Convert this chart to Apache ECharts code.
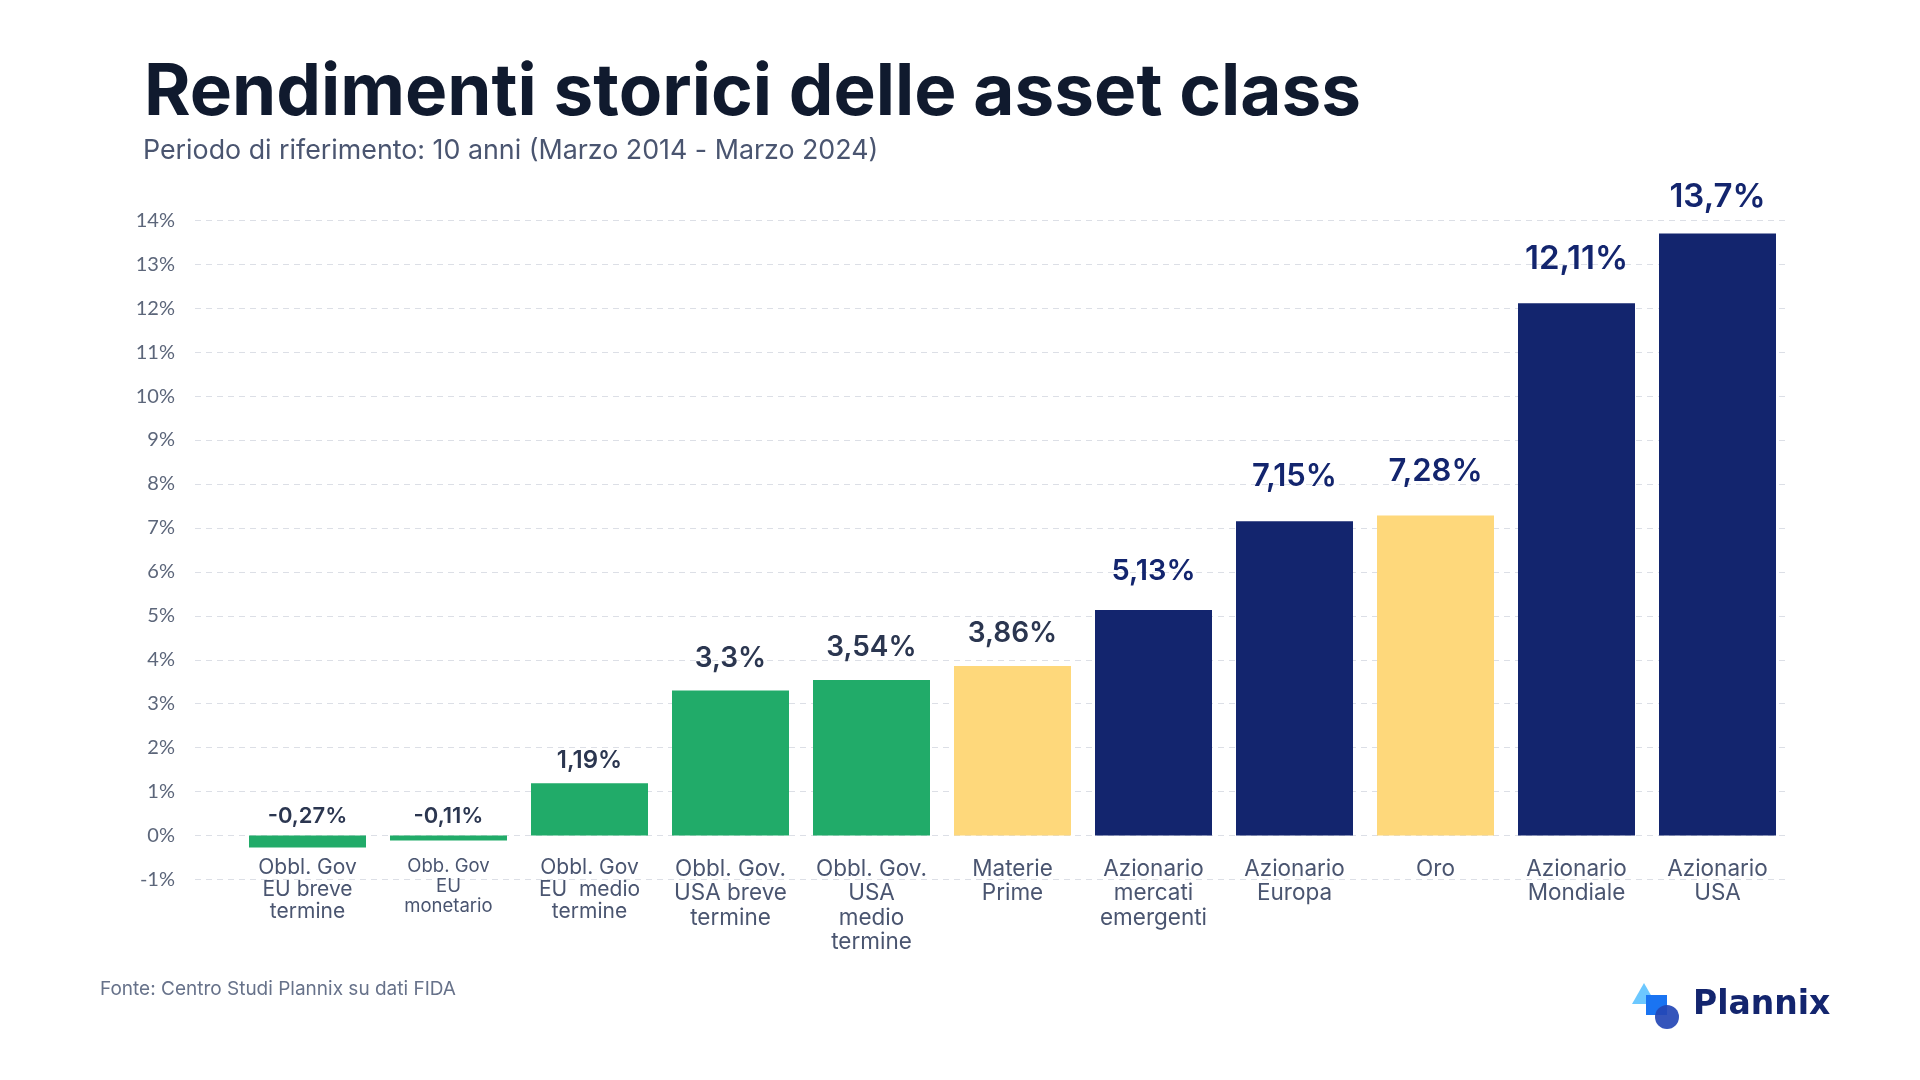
<!DOCTYPE html>
<html><head><meta charset="utf-8">
<script src="https://cdn.jsdelivr.net/npm/echarts@6/dist/echarts.min.js"></script>
<style>html,body{margin:0;padding:0;background:#fff}#c{width:1920px;height:1080px}</style>
</head><body><div id="c"></div>
<script>
// ---- data ----
const categories = [
  'Obbl. Gov\nEU breve\ntermine',
  'Obb. Gov\nEU\nmonetario',
  'Obbl. Gov\nEU  medio\ntermine',
  'Obbl. Gov.\nUSA breve\ntermine',
  'Obbl. Gov.\nUSA\nmedio\ntermine',
  'Materie\nPrime',
  'Azionario\nmercati\nemergenti',
  'Azionario\nEuropa',
  'Oro',
  'Azionario\nMondiale',
  'Azionario\nUSA'
];
const values = [-0.27, -0.11, 1.19, 3.3, 3.54, 3.86, 5.13, 7.15, 7.28, 12.11, 13.7];
const valueLabels = ['-0,27%', '-0,11%', '1,19%', '3,3%', '3,54%', '3,86%', '5,13%', '7,15%', '7,28%', '12,11%', '13,7%'];
const groups = ['bond', 'bond', 'bond', 'bond', 'bond', 'commodity', 'equity', 'equity', 'commodity', 'equity', 'equity'];
const yMin = -1, yMax = 14, yStep = 1;
const titleText = 'Rendimenti storici delle asset class';
const subtitleText = 'Periodo di riferimento: 10 anni (Marzo 2014 - Marzo 2024)';
const sourceText = 'Fonte: Centro Studi Plannix su dati FIDA';
const brandText = 'Plannix';

// ---- styles ----
const groupColors = { bond: '#21ab69', commodity: '#fed87b', equity: '#13256e' };
const labelColors = ['#2b3650', '#2b3650', '#2b3650', '#2b3650', '#2b3650', '#2b3650', '#13256e', '#13256e', '#13256e', '#13256e', '#13256e'];
const labelSizes = [22, 22, 24, 28, 28, 28, 29, 31, 31, 33, 33];
const labelDistances = [8, 8, 10, 18, 18, 18, 24, 29, 28, 28, 20];
const catSizes = [21, 18.5, 21, 22.5, 22.5, 22.5, 22.5, 22.5, 22.5, 22.5, 22.5];
const catLineHeights = [22, 20, 22, 24.5, 24.5, 24.5, 24.5, 24.5, 24.5, 24.5, 24.5];

const FONT = 'Inter, "Noto Sans", sans-serif';
const GRID_TOP = 220.3, GRID_BOTTOM = 1080 - 879.5;

const chart = echarts.init(document.getElementById('c'), null, { renderer: 'canvas' });
chart.setOption({
  backgroundColor: '#ffffff',
  animation: false,
  grid: [
    { left: 195, right: 135, top: GRID_TOP, bottom: GRID_BOTTOM, containLabel: false },
    { left: 237, right: 132, top: GRID_TOP, bottom: GRID_BOTTOM, containLabel: false }
  ],
  xAxis: [
    { gridIndex: 0, type: 'value', show: false, min: 0, max: 1 },
    {
      gridIndex: 1, type: 'category',
      data: categories.map((c, i) => ({ value: c, textStyle: { fontSize: catSizes[i], lineHeight: catLineHeights[i] } })),
      axisLine: { show: false, onZero: false },
      axisTick: { show: false },
      axisLabel: { interval: 0, margin: -23, color: '#4a5570', fontFamily: FONT, fontSize: 22.5, lineHeight: 24.5, align: 'center', verticalAlign: 'top' }
    }
  ],
  yAxis: [
    {
      gridIndex: 0, type: 'value', min: yMin, max: yMax, interval: yStep,
      axisLine: { show: false }, axisTick: { show: false },
      axisLabel: { margin: 20, color: '#5c667a', fontFamily: 'Lato, ' + FONT, fontSize: 20, formatter: v => v + '%' },
      splitLine: { show: true, lineStyle: { color: '#dcdfe6', type: [6, 5], width: 1 } }
    },
    {
      gridIndex: 1, type: 'value', min: yMin, max: yMax, interval: yStep, show: false,
      splitLine: { show: false }
    }
  ],
  series: [{
    type: 'bar', xAxisIndex: 1, yAxisIndex: 1, barWidth: 117,
    data: values.map((v, i) => ({
      value: v,
      itemStyle: { color: groupColors[groups[i]] },
      label: {
        show: true, position: 'top', distance: labelDistances[i],
        formatter: () => valueLabels[i],
        color: labelColors[i], fontSize: labelSizes[i], fontWeight: 600, fontFamily: FONT
      }
    }))
  }],
  graphic: [
    { type: 'text', left: 144, top: 58, style: { text: titleText, fill: '#101a2e', font: '700 71px ' + FONT } },
    { type: 'text', left: 143, top: 137, style: { text: subtitleText, fill: '#4a5570', font: '400 26.8px ' + FONT } },
    { type: 'text', left: 100, top: 980, style: { text: sourceText, fill: '#67728a', font: '400 19px ' + FONT } },
    { type: 'polygon', shape: { points: [[1644, 983], [1632, 1004], [1656, 1004]] }, style: { fill: '#6cc8ff' } },
    { type: 'rect', shape: { x: 1646, y: 995, width: 21, height: 20 }, style: { fill: '#1a74f2' } },
    { type: 'circle', shape: { cx: 1667, cy: 1017, r: 12 }, style: { fill: '#2447b5', opacity: 0.92 } },
    { type: 'text', left: 1693, top: 989, style: { text: brandText, fill: '#13256e', font: '800 33px "DejaVu Sans", ' + FONT } }
  ]
});
</script>
</body></html>
